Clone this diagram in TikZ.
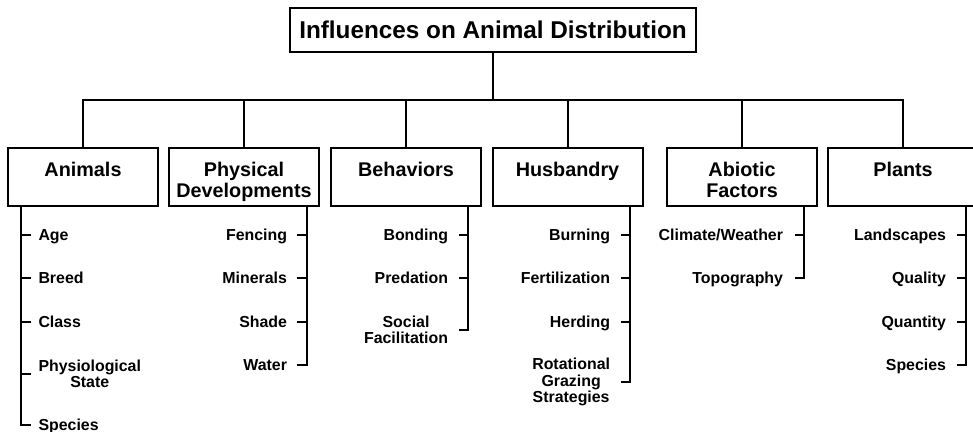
\documentclass[tikz,border=0pt]{standalone}
\usepackage{fontspec}
\setmainfont{Liberation Sans}
\begin{document}
\begin{tikzpicture}[x=1pt,y=-1pt,line width=2pt,
  hbox/.style={draw,minimum width=150pt,minimum height=58pt,inner sep=0pt},
  htext/.style={anchor=north,align=center,inner sep=0pt,font=\bfseries\fontsize{19.8}{21}\selectfont},
  itemfont/.style={inner sep=0pt,font=\bfseries\fontsize{15.9}{16.5}\selectfont},
  itemW/.style={itemfont,anchor=west,text height=11.4pt,text depth=0pt},
  itemE/.style={itemfont,anchor=east,text height=11.4pt,text depth=0pt},
  itemWm/.style={itemfont,anchor=west,align=center},
  itemEm/.style={itemfont,anchor=east,align=center}]
\useasboundingbox (0,0) rectangle (973,431);
% title
\node[draw,minimum width=406pt,minimum height=44pt,inner sep=0pt,font=\bfseries\fontsize{24.3}{28}\selectfont] (title) at (493,30) {Influences on Animal Distribution};
\coordinate (bar) at (0,100);
% header boxes
\node[hbox] (animals) at (83,177) {};
\node[hbox] (physical) at (244,177) {};
\node[hbox] (behaviors) at (406,177) {};
\node[hbox] (husbandry) at (567.5,177) {};
\node[hbox] (abiotic) at (742,177) {};
\node[hbox] (plants) at (903,177) {};
\node[htext] (animalsT) at (83,161) {Animals};
\node[htext] (physicalT) at (244,161) {Physical\\Developments};
\node[htext] (behaviorsT) at (406,161) {Behaviors};
\node[htext] (husbandryT) at (567.5,161) {Husbandry};
\node[htext] (abioticT) at (742,161) {Abiotic\\Factors};
\node[htext] (plantsT) at (903,161) {Plants};
% tree connectors
\draw (title.south) -- (title.south |- bar);
\draw (animals.north) -- (animals.north |- bar) -- (plants.north |- bar) -- (plants.north);
\foreach \n in {physical,behaviors,husbandry,abiotic}
  \draw (\n.north) -- (\n.north |- bar);
% spines
\coordinate (sA) at (21,0);
\coordinate (sP) at (307,0);
\coordinate (sB) at (468,0);
\coordinate (sH) at (630,0);
\coordinate (sF) at (804,0);
\coordinate (sL) at (966,0);
% Animals items
\node[itemW] (age) at (37.5,235) {Age};
\node[itemW] (breed) at (37.5,278) {Breed};
\node[itemW] (class) at (37.5,322) {Class};
\node[itemWm] (physio) at (37.5,374) {Physiological\\State};
\node[itemW] (speciesA) at (37.5,425) {Species};
\draw (animals.south -| sA) -- (speciesA.west -| sA) -- ([xshift=-6.5pt]speciesA.west);
\foreach \n in {age,breed,class,physio}
  \draw (\n.west -| sA) -- ([xshift=-6.5pt]\n.west);
% Physical items
\node[itemE] (fencing) at (288,235) {Fencing};
\node[itemE] (minerals) at (288,278) {Minerals};
\node[itemE] (shade) at (288,322) {Shade};
\node[itemE] (water) at (288,365) {Water};
\draw (physical.south -| sP) -- (water.east -| sP) -- ([xshift=9pt]water.east);
\foreach \n in {fencing,minerals,shade}
  \draw (\n.east -| sP) -- ([xshift=9pt]\n.east);
% Behaviors items
\node[itemE] (bonding) at (449,235) {Bonding};
\node[itemE] (predation) at (449,278) {Predation};
\node[itemEm] (social) at (449,330) {Social\\Facilitation};
\draw (behaviors.south -| sB) -- (social.east -| sB) -- ([xshift=9.5pt]social.east);
\foreach \n in {bonding,predation}
  \draw (\n.east -| sB) -- ([xshift=9.5pt]\n.east);
% Husbandry items
\node[itemE] (burning) at (611,235) {Burning};
\node[itemE] (fert) at (611,278) {Fertilization};
\node[itemE] (herding) at (611,322) {Herding};
\node[itemEm] (rot) at (611,382) {Rotational\\Grazing\\Strategies};
\draw (husbandry.south -| sH) -- (rot.east -| sH) -- ([xshift=10pt]rot.east);
\foreach \n in {burning,fert,herding}
  \draw (\n.east -| sH) -- ([xshift=10pt]\n.east);
% Abiotic items
\node[itemE] (climate) at (784,235) {Climate/Weather};
\node[itemE] (topo) at (784,278) {Topography};
\draw (abiotic.south -| sF) -- (topo.east -| sF) -- ([xshift=11pt]topo.east);
\draw (climate.east -| sF) -- ([xshift=11pt]climate.east);
% Plants items
\node[itemE] (land) at (947,235) {Landscapes};
\node[itemE] (quality) at (947,278) {Quality};
\node[itemE] (quantity) at (947,322) {Quantity};
\node[itemE] (speciesP) at (947,365) {Species};
\draw (plants.south -| sL) -- (speciesP.east -| sL) -- ([xshift=10pt]speciesP.east);
\foreach \n in {land,quality,quantity}
  \draw (\n.east -| sL) -- ([xshift=10pt]\n.east);
\end{tikzpicture}
\end{document}
